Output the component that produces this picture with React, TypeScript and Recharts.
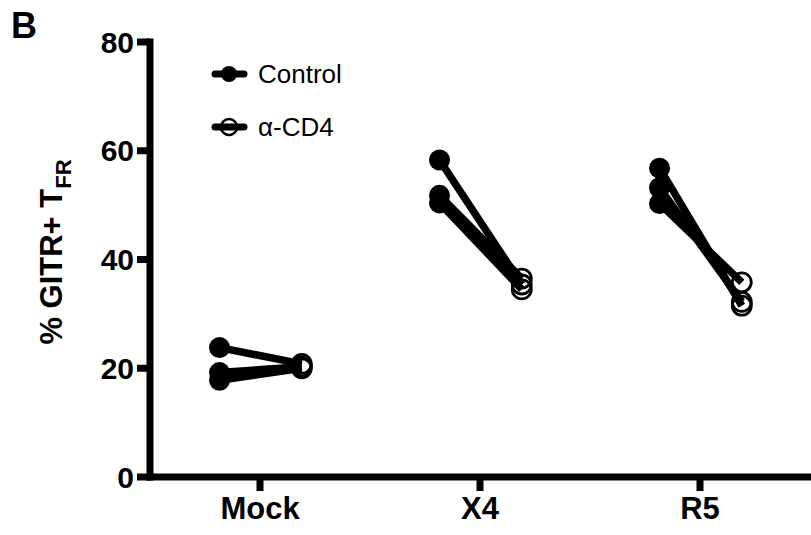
import React from "react";
import { LineChart, Line, XAxis, YAxis, Label } from "recharts";

const categories = ["Mock", "X4", "R5"];
const controlValues = [
  [23.8, 19.2, 17.8],
  [58.3, 51.8, 50.4],
  [56.8, 53.2, 50.3],
];
const cd4Values = [
  [20.8, 20.3, 20.0],
  [35.4, 36.5, 34.5],
  [31.5, 32.2, 35.8],
];
const yTicks = [0, 20, 40, 60, 80];
const seriesNames = ["Control", "α-CD4"];

const LEFT_OFFSET = -0.184;
const RIGHT_OFFSET = 0.19;

type Pt = { x: number; y: number };
const pairs: Pt[][] = [];
categories.forEach((_, ci) => {
  controlValues[ci].forEach((v, si) => {
    pairs.push([
      { x: ci + 0.5 + LEFT_OFFSET, y: v },
      { x: ci + 0.5 + RIGHT_OFFSET, y: cd4Values[ci][si] },
    ]);
  });
});

const FONT = "Arial, 'Liberation Sans', sans-serif";

const renderDot = (props: any) => {
  const { cx, cy, index, key } = props;
  if (index === 0) {
    return <circle key={key ?? `d${cx}-${cy}`} cx={cx} cy={cy} r={10.5} fill="#000" stroke="none" />;
  }
  return (
    <circle key={key ?? `d${cx}-${cy}`} cx={cx} cy={cy} r={9.5} fill="none" stroke="#000" strokeWidth={2.8} />
  );
};

const YLabel = (props: any) => {
  const x = 62;
  const y = 252;
  return (
    <text
      x={x}
      y={y}
      transform={`rotate(-90, ${x}, ${y})`}
      textAnchor="middle"
      fontFamily={FONT}
      fontWeight="bold"
      fontSize={31}
      fill="#000"
    >
      <tspan>% GITR+ T</tspan>
      <tspan fontSize={22} dy={9}>FR</tspan>
    </text>
  );
};

const Legend = () => (
  <div style={{ position: "absolute", left: 0, top: 0, width: 811, height: 535, pointerEvents: "none" }}>
    <svg width={811} height={535} style={{ position: "absolute", left: 0, top: 0 }}>
      <line x1={215} y1={74} x2={244} y2={74} stroke="#000" strokeWidth={7} strokeLinecap="round" />
      <circle cx={229} cy={74} r={8} fill="#000" />
      <line x1={215} y1={127} x2={244} y2={127} stroke="#000" strokeWidth={7} strokeLinecap="round" />
      <circle cx={229} cy={127} r={8} fill="none" stroke="#000" strokeWidth={2.5} />
      <text x={258} y={83} fontFamily={FONT} fontSize={26} fill="#000">{seriesNames[0]}</text>
      <text x={258} y={136} fontFamily={FONT} fontSize={26} fill="#000">{seriesNames[1]}</text>
      <text x={11} y={38} fontFamily={FONT} fontSize={36} fontWeight="bold" fill="#000">B</text>
    </svg>
  </div>
);

export default function App() {
  return (
    <div style={{ position: "absolute", left: 0, top: 0, width: 811, height: 535, background: "#fff" }}>
      <LineChart
        width={811}
        height={535}
        margin={{ top: 42, right: 1, bottom: 8, left: 70 }}
      >
        <XAxis
          type="number"
          dataKey="x"
          domain={[0, 3]}
          ticks={[0.5, 1.5, 2.5]}
          tickFormatter={(v: number) => categories[Math.floor(v)]}
          allowDuplicatedCategory={false}
          height={50}
          axisLine={{ stroke: "#000", strokeWidth: 7, strokeLinecap: "square" }}
          tickLine={{ stroke: "#000", strokeWidth: 7 }}
          tickSize={14}
          tickMargin={6}
          tick={{ fill: "#000", fontSize: 31, fontWeight: "bold", fontFamily: FONT }}
        />
        <YAxis
          type="number"
          domain={[0, 80]}
          ticks={yTicks}
          width={80}
          axisLine={{ stroke: "#000", strokeWidth: 7, strokeLinecap: "square" }}
          tickLine={{ stroke: "#000", strokeWidth: 7 }}
          tickSize={13}
          tickMargin={3}
          tick={{ fill: "#000", fontSize: 30, fontWeight: "bold", fontFamily: FONT }}
        >
          <Label content={<YLabel />} />
        </YAxis>
        {pairs.map((p, i) => (
          <Line
            key={i}
            data={p}
            dataKey="y"
            stroke="#000"
            strokeWidth={7.5}
            dot={renderDot}
            activeDot={false}
            isAnimationActive={false}
            legendType="none"
          />
        ))}
      </LineChart>
      <Legend />
    </div>
  );
}
